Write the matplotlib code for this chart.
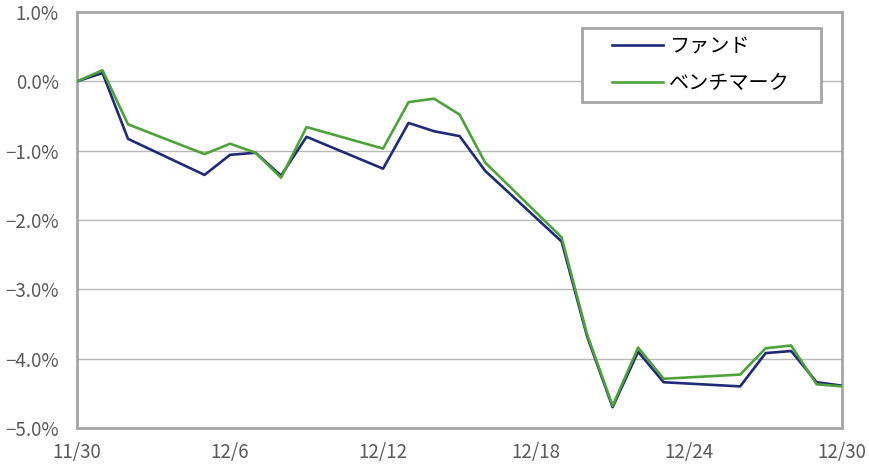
import pandas as pd
import matplotlib
matplotlib.use("Agg")
import matplotlib.pyplot as plt
from matplotlib.patches import Rectangle
from matplotlib.ticker import FuncFormatter

plt.rcParams['font.family'] = ['Noto Sans CJK JP', 'DejaVu Sans']

dates = ["2016-11-30", "2016-12-01", "2016-12-02", "2016-12-05", "2016-12-06",
         "2016-12-07", "2016-12-08", "2016-12-09", "2016-12-12", "2016-12-13",
         "2016-12-14", "2016-12-15", "2016-12-16", "2016-12-19", "2016-12-20",
         "2016-12-21", "2016-12-22", "2016-12-23", "2016-12-26", "2016-12-27",
         "2016-12-28", "2016-12-29", "2016-12-30"]
fund = [0.00, 0.12, -0.83, -1.35, -1.06, -1.03, -1.36, -0.80, -1.26, -0.60,
        -0.72, -0.79, -1.29, -2.31, -3.68, -4.70, -3.90, -4.34, -4.40, -3.92,
        -3.89, -4.34, -4.39]
bench = [0.00, 0.16, -0.62, -1.05, -0.90, -1.03, -1.39, -0.66, -0.97, -0.30,
         -0.25, -0.48, -1.17, -2.25, -3.65, -4.68, -3.84, -4.29, -4.23, -3.85,
         -3.81, -4.37, -4.40]
tick_dates = ["2016-11-30", "2016-12-06", "2016-12-12", "2016-12-18", "2016-12-24", "2016-12-30"]
tick_labels = ["11/30", "12/6", "12/12", "12/18", "12/24", "12/30"]

x = pd.to_datetime(dates)

fig = plt.figure(figsize=(8.7, 4.65), dpi=100)
ax = fig.add_axes([0.0885, 0.0796, 0.8795, 0.8946])

ax.plot(x, fund, color="#1f2a78", lw=1.9, label="ファンド", zorder=3)
ax.plot(x, bench, color="#4ea23a", lw=1.9, label="ベンチマーク", zorder=4)

ax.set_xlim(pd.Timestamp("2016-11-30"), pd.Timestamp("2016-12-30"))
ax.set_ylim(-5.0, 1.0)
ax.set_yticks([1.0, 0.0, -1.0, -2.0, -3.0, -4.0, -5.0])
ax.yaxis.set_major_formatter(FuncFormatter(lambda v, p: f"{v:.1f}%".replace("-", "\u2212")))
ax.set_xticks(pd.to_datetime(tick_dates))
ax.set_xticklabels(tick_labels)

ax.grid(axis="y", color="#b8b8b8", lw=1.0)
ax.set_axisbelow(True)
for s in ax.spines.values():
    s.set_color("#a6a6a6")
    s.set_linewidth(2.0)
ax.tick_params(length=0, labelsize=13.5, colors="#595959")
ax.tick_params(axis="y", pad=13)
ax.tick_params(axis="x", pad=10)

# legend box drawn separately so the padding matches the original
ax.add_patch(Rectangle((0.660, 0.7837), 0.3125, 0.1778, transform=ax.transAxes,
                       facecolor="white", edgecolor="#a6a6a6", lw=2.0, zorder=5))
leg = ax.legend(loc="center left", bbox_to_anchor=(0.699, 0.8726), fontsize=14.5,
                frameon=False, handlelength=2.55, handletextpad=0.3,
                borderpad=0, labelspacing=0.8, borderaxespad=0)
leg.set_zorder(6)

fig.savefig("out.png", dpi=100)
